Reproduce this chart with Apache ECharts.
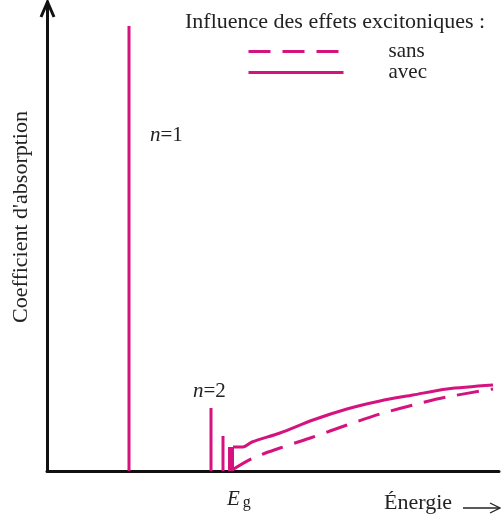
<!DOCTYPE html>
<html>
<head>
<meta charset="utf-8">
<script src="https://cdn.jsdelivr.net/npm/echarts@6/dist/echarts.min.js"></script>
<style>html,body{margin:0;padding:0;background:#fff}#c{width:501px;height:519px}</style>
</head>
<body>
<div id="c"></div>
<script>
// Energy axis in arbitrary units, absorption in arbitrary units
var excitonPeaks = [[82, 445], [164, 63], [176, 35]];      // n=1, n=2, n=3 lines
var continuumStep = [[184, 0], [184, 24]];                 // step at Eg
var withExciton = [[186, 24], [196, 24], [205, 29], [233, 38], [266, 51], [300, 62], [333, 70], [366, 76], [400, 82], [446, 86]];
var withoutExciton = [[185, 1], [206, 13], [233, 23], [266, 34], [300, 46], [333, 57], [366, 66], [400, 74], [446, 82]];
var legendNames = ['sans', 'avec'];

var MAG = '#d4137f';
var FONT = 'Liberation Serif';
var chart = echarts.init(document.getElementById('c'), null, {renderer: 'canvas'});
chart.setOption({
  animation: false,
  backgroundColor: '#fff',
  grid: {left: 47, right: 2, top: 2, bottom: 48},
  xAxis: {type: 'value', min: 0, max: 452,
    axisLine: {show: true, lineStyle: {color: '#111', width: 3}},
    axisTick: {show: false}, axisLabel: {show: false}, splitLine: {show: false}},
  yAxis: {type: 'value', min: 0, max: 469,
    axisLine: {show: true, lineStyle: {color: '#111', width: 3}},
    axisTick: {show: false}, axisLabel: {show: false}, splitLine: {show: false}},
  legend: {
    data: legendNames, orient: 'vertical', left: 242, top: 36,
    itemWidth: 95, itemHeight: 10, itemGap: 0,
    itemStyle: {opacity: 0},
    lineStyle: {width: 3},
    textStyle: {fontFamily: FONT, fontSize: 21, color: '#222', lineHeight: 20, padding: [0, 0, 0, 40]}
  },
  series: [
    {type: 'bar', name: 'peaks', data: excitonPeaks, barWidth: 3, itemStyle: {color: MAG}, z: 3},
    {type: 'line', name: 'step', data: continuumStep, symbol: 'none', lineStyle: {color: MAG, width: 6, cap: 'butt'}, z: 3},
    {type: 'line', name: 'sans', data: withoutExciton, symbol: 'none', smooth: 0.3,
      lineStyle: {color: MAG, width: 3, type: [22, 12]}, itemStyle: {color: MAG}},
    {type: 'line', name: 'avec', data: withExciton, symbol: 'none', smooth: 0.3,
      lineStyle: {color: MAG, width: 3}, itemStyle: {color: MAG}}
  ],
  graphic: [
    {type: 'polyline', shape: {points: [[41, 17], [47.5, 2], [54, 17]]}, style: {stroke: '#111', lineWidth: 3, fill: null}},
    {type: 'text', x: 185, y: 22, style: {text: 'Influence des effets excitoniques :', font: '22px "Liberation Serif"', fill: '#222', verticalAlign: 'middle'}},
    {type: 'text', x: 21, y: 217, rotation: Math.PI / 2, style: {text: "Coefficient d'absorption", font: '22px "Liberation Serif"', fill: '#222', align: 'center', verticalAlign: 'middle'}},
    {type: 'text', x: 150, y: 135, style: {text: '{i|n}=1', fill: '#222', verticalAlign: 'middle', rich: {i: {fontFamily: FONT, fontStyle: 'italic', fontSize: 21}}, font: '21px "Liberation Serif"'}},
    {type: 'text', x: 193, y: 391, style: {text: '{i|n}=2', fill: '#222', verticalAlign: 'middle', rich: {i: {fontFamily: FONT, fontStyle: 'italic', fontSize: 21}}, font: '21px "Liberation Serif"'}},
    {type: 'text', x: 227, y: 499, style: {text: '{i|E}{s|g}', fill: '#222', verticalAlign: 'middle', rich: {i: {fontFamily: FONT, fontStyle: 'italic', fontSize: 21}, s: {fontFamily: FONT, fontSize: 16, padding: [7, 0, 0, 3]}}}},
    {type: 'text', x: 384, y: 503, style: {text: 'Énergie', font: '22px "Liberation Serif"', fill: '#222', verticalAlign: 'middle'}},
    {type: 'line', shape: {x1: 463, y1: 508, x2: 499, y2: 508}, style: {stroke: '#222', lineWidth: 1.3}},
    {type: 'polyline', shape: {points: [[490, 503], [500, 508], [490, 513]]}, style: {stroke: '#222', lineWidth: 1.3, fill: null}}
  ]
});
</script>
</body>
</html>
